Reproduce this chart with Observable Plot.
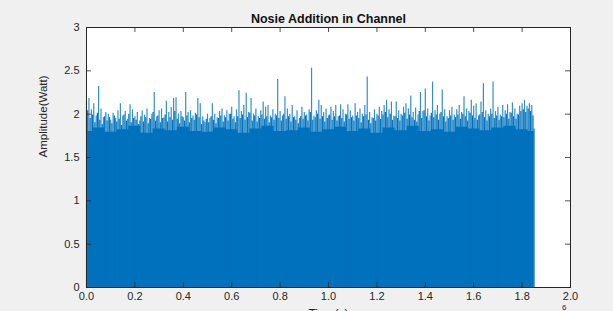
<!DOCTYPE html>
<html>
<head>
<meta charset="utf-8">
<script src="https://cdn.jsdelivr.net/npm/d3@7"></script>
<script src="https://cdn.jsdelivr.net/npm/@observablehq/plot@0.6"></script>
<style>
  html, body { margin: 0; padding: 0; background: #f0f0f0; }
  #chart svg { display: block; }
</style>
</head>
<body>
<div id="chart"></div>
<script>
// Time axis in units of 1e6 s (axis shows x10^6)
const title = "Nosie Addition in Channel";
const xLabel = "Time(s)";
const yLabel = "Amplitude(Watt)";
const xTicks = [0, 0.2, 0.4, 0.6, 0.8, 1, 1.2, 1.4, 1.6, 1.8, 2];
const yTicks = [0, 0.5, 1, 1.5, 2, 2.5, 3];

// sample step 0.01 (x1e6), t = 0 .. 1.85 : peak amplitude of the taller strokes
const sampleStep = 0.01;
const peaks = [
  2.15, 2.18, 2.05, 2.12, 1.98, 2.32, 2.06, 1.96, 2.02, 2.00,
  1.93, 2.01, 1.95, 2.04, 2.12, 1.98, 2.03, 1.94, 2.11, 2.05,
  1.97, 2.02, 1.92, 2.04, 1.99, 2.06, 1.95, 2.00, 2.25, 1.97,
  2.04, 2.06, 1.96, 2.15, 2.02, 2.08, 2.18, 2.19, 2.00, 2.03,
  1.96, 2.25, 2.02, 2.04, 1.98, 2.01, 2.18, 2.12, 1.97, 1.90,
  2.00, 1.95, 2.12, 2.00, 1.96, 2.03, 2.06, 1.98, 2.04, 2.00,
  2.08, 1.97, 2.05, 2.27, 2.03, 2.10, 2.24, 2.02, 2.18, 2.00,
  2.06, 1.97, 2.04, 2.14, 2.08, 2.10, 1.98, 2.05, 2.00, 2.40,
  2.03, 1.98, 2.20, 2.06, 2.00, 2.10, 1.97, 2.04, 1.95, 2.08,
  2.02, 1.99, 2.05, 2.53, 1.98, 2.04, 2.16, 2.10, 2.02, 2.06,
  1.98, 2.08, 2.03, 2.10, 1.97, 2.11, 2.05, 2.00, 2.11, 2.04,
  1.98, 2.12, 2.02, 2.06, 2.00, 2.10, 2.43, 2.02, 1.96, 2.05,
  2.00, 2.08, 2.03, 2.10, 2.16, 2.05, 2.14, 1.98, 2.14, 2.04,
  2.00, 2.08, 2.12, 2.06, 2.21, 2.02, 2.07, 1.99, 2.25, 2.03,
  2.29, 2.06, 1.98, 2.37, 2.04, 2.10, 2.00, 2.28, 2.05, 1.97,
  2.04, 2.08, 1.99, 2.05, 2.10, 2.02, 2.20, 2.06, 2.03, 2.16,
  2.09, 2.12, 1.98, 2.14, 2.35, 2.04, 2.00, 2.06, 2.37, 2.03,
  2.08, 1.99, 2.10, 2.04, 2.11, 2.02, 2.13, 2.06, 2.00, 2.09,
  2.12, 2.16, 2.09, 2.12, 2.10, 1.83
];

// in-between strokes, t = 0.005 .. 1.845 step 0.01 : lower amplitude
const mids = [
  2.04, 1.95, 1.99, 1.90, 2.01, 1.93, 1.88, 1.97, 1.92, 1.96,
  1.89, 1.98, 1.91, 1.94, 1.87, 1.99, 1.92, 2.00, 1.90, 1.95,
  1.93, 1.88, 1.97, 1.91, 1.96, 1.89, 1.94, 2.02, 1.92, 1.98,
  1.90, 1.95, 1.99, 1.91, 1.96, 1.93, 2.03, 1.94, 1.89, 1.97,
  1.92, 1.98, 1.90, 1.95, 1.93, 1.99, 1.96, 1.88, 1.92, 1.94,
  1.90, 1.97, 1.93, 1.89, 1.95, 1.98, 1.91, 1.96, 1.92, 2.00,
  1.94, 1.90, 1.97, 1.95, 1.99, 1.93, 1.96, 2.01, 1.92, 1.98,
  1.91, 1.95, 1.99, 1.94, 1.97, 1.90, 1.96, 1.93, 1.98, 1.95,
  1.92, 2.00, 1.94, 1.97, 1.91, 1.96, 1.93, 1.89, 1.97, 1.94,
  1.98, 1.92, 2.02, 1.93, 1.96, 2.00, 1.94, 1.97, 1.91, 1.95,
  1.99, 1.93, 1.97, 1.92, 1.98, 1.95, 1.91, 1.99, 1.94, 1.96,
  1.92, 1.98, 1.95, 1.90, 1.97, 1.99, 1.93, 1.89, 1.95, 1.92,
  1.98, 1.94, 1.99, 2.02, 1.96, 2.00, 1.93, 1.97, 1.95, 1.92,
  1.98, 2.01, 1.94, 1.99, 1.96, 1.93, 1.91, 2.03, 1.95, 2.04,
  1.97, 1.92, 2.01, 1.96, 1.99, 1.93, 2.02, 1.97, 1.91, 1.95,
  1.98, 1.93, 1.96, 1.99, 1.94, 2.00, 1.97, 1.92, 2.01, 1.98,
  1.95, 1.93, 1.99, 2.02, 1.96, 1.92, 1.97, 2.00, 1.95, 1.98,
  1.93, 1.97, 1.96, 2.00, 1.94, 2.01, 1.97, 1.94, 1.99, 2.03,
  2.05, 2.02, 2.06, 2.03, 1.98
];

// solid body level, step 0.05 (x1e6), t = 0 .. 1.85
const bodyStep = 0.05;
const body = [
  1.80, 1.84, 1.79, 1.82, 1.86, 1.78, 1.83, 1.81, 1.85, 1.80,
  1.79, 1.84, 1.82, 1.78, 1.83, 1.86, 1.80, 1.81, 1.84, 1.79,
  1.82, 1.85, 1.80, 1.83, 1.78, 1.84, 1.81, 1.86, 1.80, 1.82,
  1.79, 1.85, 1.83, 1.81, 1.84, 1.86, 1.82, 1.80
];

const peakData = peaks.map((v, i) => ({t: +(i * sampleStep).toFixed(3), v}));
const midData = mids.map((v, i) => ({t: +(0.005 + i * sampleStep).toFixed(3), v}));
const bodyData = body.map((v, i) => ({t: Math.min(1.85, +(i * bodyStep).toFixed(3)), v}));

const font = "'Liberation Sans', Arial, Helvetica, sans-serif";
const ink = "#262626";
const blue = "#0072bd";
const tickLen = 3 * 5 / 260;
const xTickLen = 2 * 5 / 484;

const chart = Plot.plot({
  width: 613,
  height: 311,
  marginLeft: 86,
  marginRight: 43,
  marginTop: 27,
  marginBottom: 24,
  style: {background: "#f0f0f0", fontFamily: font, fontSize: "11px", color: ink, overflow: "visible"},
  x: {domain: [0, 2]},
  y: {domain: [0, 3]},
  marks: [
    Plot.frame({fill: "white", stroke: null}),
    Plot.areaY(bodyData, {x: "t", y: "v", fill: blue, curve: "step"}),
    Plot.ruleX(midData, {x: "t", y1: 0, y2: "v", stroke: blue, strokeWidth: 1.2}),
    Plot.ruleX(peakData, {x: "t", y1: 0, y2: "v", stroke: blue, strokeWidth: 1.2, strokeOpacity: 0.8}),
    // inward ticks (MATLAB style)
    Plot.ruleX(xTicks, {x: d => d, y1: 0, y2: tickLen, stroke: ink, strokeWidth: 0.8}),
    Plot.ruleX(xTicks, {x: d => d, y1: 3 - tickLen, y2: 3, stroke: ink, strokeWidth: 0.8}),
    Plot.ruleY(yTicks, {y: d => d, x1: 0, x2: xTickLen, stroke: ink, strokeWidth: 0.8}),
    Plot.ruleY(yTicks, {y: d => d, x1: 2 - xTickLen, x2: 2, stroke: ink, strokeWidth: 0.8}),
    Plot.frame({stroke: ink, strokeWidth: 1}),
    Plot.axisX(xTicks, {tickSize: 0, tickPadding: 5, label: null, fill: ink, fontSize: 11}),
    Plot.axisY(yTicks, {tickSize: 0, tickPadding: 7, label: null, fill: ink, fontSize: 11, tickFormat: d => String(d)}),
    Plot.text([title], {frameAnchor: "top", dy: -9, lineAnchor: "middle", fontWeight: "bold", fontSize: 12.5, fill: "#111"}),
    Plot.text([yLabel], {frameAnchor: "left", dx: -43, rotate: -90, fontSize: 11.5, fill: ink}),
    Plot.text([xLabel], {frameAnchor: "bottom", dy: 27, lineAnchor: "middle", fontSize: 12, fill: ink}),
    Plot.text(["6"], {frameAnchor: "bottom-right", dx: -4, dy: 20, lineAnchor: "middle", fontSize: 8, fill: ink})
  ]
});
document.getElementById("chart").appendChild(chart);
</script>
</body>
</html>
